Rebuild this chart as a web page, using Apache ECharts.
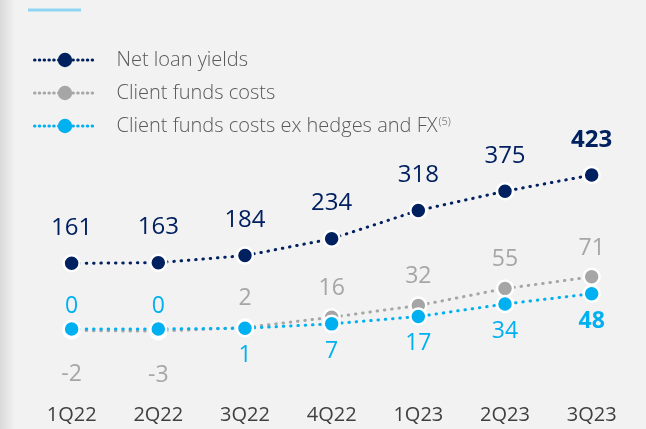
<!DOCTYPE html>
<html>
<head>
<meta charset="utf-8">
<script src="https://cdn.jsdelivr.net/npm/echarts@6/dist/echarts.min.js"></script>
<style>
  html, body { margin: 0; padding: 0; background: #f2f2f2; }
  #chart { width: 646px; height: 429px; }
</style>
</head>
<body>
<div id="chart"></div>
<script>
// Quarterly yields and costs, in basis points
const quarters = ['1Q22', '2Q22', '3Q22', '4Q22', '1Q23', '2Q23', '3Q23'];
const netLoanYields = [161, 163, 184, 234, 318, 375, 423];
const clientFundsCosts = [-2, -3, 2, 16, 32, 55, 71];
const clientFundsCostsExHedges = [0, 0, 1, 7, 17, 34, 48];
const seriesNames = [
  'Net loan yields',
  'Client funds costs',
  'Client funds costs ex hedges and FX'
];

const FONT = '"Open Sans", "Noto Sans", sans-serif';
const NAVY = '#002060';
const GREY = '#a6a6a6';
const CYAN = '#00b0f0';
const last = quarters.length - 1;

const dotted = (color) => ({ color: color, width: 3, type: [0.5, 6.8], cap: 'round' });
const marker = (color) => ({ color: color, borderColor: '#ffffff', borderWidth: 2.5 });

// Net loan yields: labels above, latest quarter in bold
const navyData = netLoanYields.map((v, i) => ({
  value: v,
  label: { fontWeight: i === last ? 'bold' : 'normal' }
}));

// The two client-cost lines share a scale; whichever is lower gets its label below
const greyData = clientFundsCosts.map((v, i) => {
  const below = v < clientFundsCostsExHedges[i];
  return {
    value: v,
    label: { position: below ? 'bottom' : 'top', distance: below ? 23 : 8 }
  };
});
const cyanData = clientFundsCostsExHedges.map((v, i) => {
  const above = v >= clientFundsCosts[i];
  return {
    value: v,
    label: {
      position: above ? 'top' : 'bottom',
      distance: above ? 1.5 : 6.5,
      fontWeight: i === last ? 'bold' : 'normal'
    }
  };
});

const chart = echarts.init(document.getElementById('chart'), null, { renderer: 'canvas' });

chart.setOption({
  backgroundColor: '#f2f2f2',
  animation: false,
  textStyle: { fontFamily: FONT },
  graphic: [
    {
      type: 'rect', left: 0, top: 0, z: -1,
      shape: { width: 15, height: 429 },
      style: {
        fill: new echarts.graphic.LinearGradient(0, 0, 1, 0, [
          { offset: 0, color: '#d9d9d9' },
          { offset: 1, color: '#f2f2f2' }
        ])
      }
    },
    {
      type: 'rect', left: 28, top: 8.5,
      shape: { width: 53, height: 3 },
      style: { fill: '#8fd6f4' }
    }
  ],
  legend: {
    orient: 'vertical',
    left: 28,
    top: 45,
    itemWidth: 61,
    itemHeight: 18,
    itemGap: 13,
    itemStyle: { borderWidth: 0 },
    lineStyle: { width: 3, type: [0.5, 4.3], cap: 'round' },
    textStyle: {
      fontFamily: FONT,
      fontSize: 20,
      fontWeight: 300,
      color: '#595959',
      padding: [0, 0, 0, 16],
      rich: {
        sup: { fontFamily: FONT, fontSize: 11, fontWeight: 300, color: '#595959', verticalAlign: 'top', padding: [0, 0, 8, 1] }
      }
    },
    formatter: (name) => name === seriesNames[2] ? name + '{sup|(5)}' : name,
    data: seriesNames
  },
  grid: { left: 28.3, right: 11, top: 100, bottom: 29, containLabel: false },
  xAxis: {
    type: 'category',
    data: quarters,
    boundaryGap: true,
    axisLine: { show: false },
    axisTick: { show: false },
    axisLabel: { color: '#404040', fontSize: 20, fontFamily: FONT, margin: 5 }
  },
  yAxis: [
    { type: 'value', min: -244.5, max: 645.7, show: false, splitLine: { show: false } },
    { type: 'value', min: -96.6, max: 311.6, show: false, splitLine: { show: false } }
  ],
  series: [
    {
      name: seriesNames[1],
      type: 'line',
      yAxisIndex: 1,
      data: greyData,
      symbol: 'circle',
      symbolSize: 16,
      lineStyle: dotted(GREY),
      itemStyle: marker(GREY),
      label: { show: true, color: GREY, fontSize: 23, fontFamily: FONT },
      z: 2
    },
    {
      name: seriesNames[2],
      type: 'line',
      yAxisIndex: 1,
      data: cyanData,
      symbol: 'circle',
      symbolSize: 16,
      lineStyle: dotted(CYAN),
      itemStyle: marker(CYAN),
      label: { show: true, color: CYAN, fontSize: 23, fontFamily: FONT },
      z: 3
    },
    {
      name: seriesNames[0],
      type: 'line',
      yAxisIndex: 0,
      data: navyData,
      symbol: 'circle',
      symbolSize: 16,
      lineStyle: dotted(NAVY),
      itemStyle: marker(NAVY),
      label: { show: true, position: 'top', distance: 14, color: NAVY, fontSize: 24, fontFamily: FONT },
      z: 4
    }
  ]
});
</script>
</body>
</html>
